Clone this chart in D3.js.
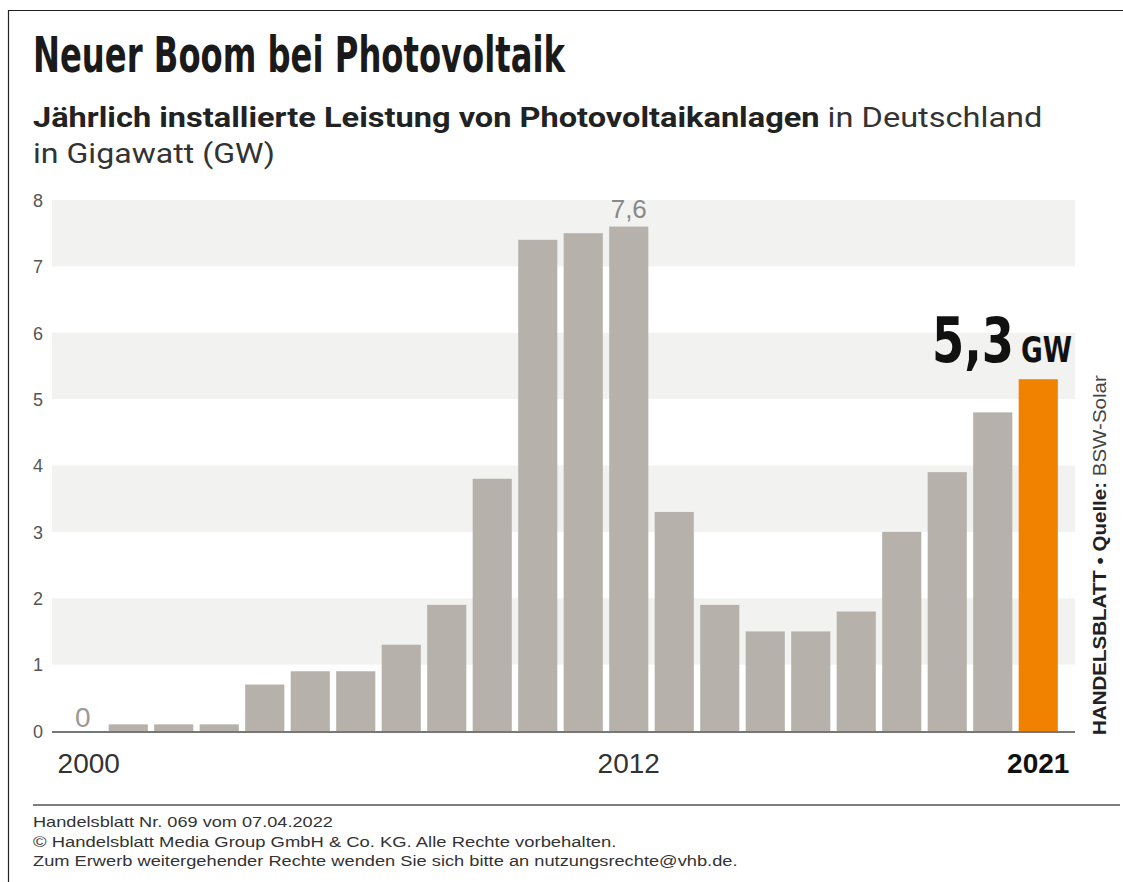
<!DOCTYPE html>
<html><head><meta charset="utf-8">
<script src="https://cdn.jsdelivr.net/npm/d3@7"></script>
<style>
html,body{margin:0;padding:0;background:#fff;}
svg{display:block;}
</style></head>
<body>
<script>
const years = [2000,2001,2002,2003,2004,2005,2006,2007,2008,2009,2010,2011,2012,2013,2014,2015,2016,2017,2018,2019,2020,2021];
const values = [0,0.1,0.1,0.1,0.7,0.9,0.9,1.3,1.9,3.8,7.4,7.5,7.6,3.3,1.9,1.5,1.5,1.8,3.0,3.9,4.8,5.3];
const yTicks = [0,1,2,3,4,5,6,7,8];
const xLabels = [2000, 2012, 2021];
const titleText = "Neuer Boom bei Photovoltaik";
const subBold = "Jährlich installierte Leistung von Photovoltaikanlagen";
const subRegular = " in Deutschland";
const subLine2 = "in Gigawatt (GW)";
const footer = ["Handelsblatt Nr. 069 vom 07.04.2022",
  "© Handelsblatt Media Group GmbH & Co. KG. Alle Rechte vorbehalten.",
  "Zum Erwerb weitergehender Rechte wenden Sie sich bitte an nutzungsrechte@vhb.de."];

const W = 1123, H = 882;
const svg = d3.select("body").append("svg").attr("width", W).attr("height", H);

// place text at (x,y) and scale horizontally to the given width
function fit(g, x, y, width, anchorRight) {
  const t = g.node();
  const w = t.getComputedTextLength ? t.getComputedTextLength() : t.getBBox().width;
  const s = width / w;
  g.attr("x", 0).attr("y", 0)
   .attr("transform", `translate(${x},${y}) scale(${s},1)`);
  return g;
}

// frame
svg.append("path").attr("d", `M8.5,${H} V10.5 H${W}`).attr("fill","none").attr("stroke","#222").attr("stroke-width",1.2);

// title
const condensed = "'DejaVu Sans Condensed','Liberation Sans Narrow',sans-serif";
fit(svg.append("text").text(titleText)
  .attr("font-family",condensed).attr("font-weight","bold").attr("font-size",50).attr("fill","#1a1a1a"),
  33, 72, 532);

// subtitle
const sub = svg.append("text").attr("font-family","Roboto, 'Noto Sans', sans-serif").attr("font-size",27).attr("fill","#222");
sub.append("tspan").attr("font-weight","bold").text(subBold);
sub.append("tspan").attr("font-weight","normal").attr("fill","#333").text(subRegular);
fit(sub, 33, 127, 1010);
fit(svg.append("text").text(subLine2)
  .attr("font-family","Roboto, 'Noto Sans', sans-serif").attr("font-size",27).attr("fill","#333"),
  33, 163, 242);

// scales
const y = d3.scaleLinear().domain([0,8]).range([731,200]);
const x = d3.scaleBand().domain(years).range([60,1061]).paddingInner(0.14).paddingOuter(0.07);
const plotL = 52, plotR = 1075;

// bands
const bandStarts = [1,3,5,7];
svg.append("g").selectAll("rect").data(bandStarts).join("rect")
  .attr("x",plotL).attr("width",plotR-plotL)
  .attr("y",d=>y(d+1)).attr("height",d=>y(d)-y(d+1))
  .attr("fill","#f2f2f0");

// y axis
const yAxis = svg.append("g").attr("transform","translate(45,0)")
  .call(d3.axisLeft(y).tickValues(yTicks).tickSize(0).tickPadding(0).tickFormat(d3.format("d")));
yAxis.select(".domain").remove();
yAxis.selectAll("text").attr("font-family","'Liberation Sans', Arial, sans-serif")
  .attr("font-size",18).attr("fill","#555").attr("text-anchor","middle").attr("x",-7).attr("dy","0.35em");

// bars
svg.append("g").selectAll("rect").data(years).join("rect")
  .attr("x",d=>x(d)).attr("width",x.bandwidth())
  .attr("y",(d,i)=>y(values[i])).attr("height",(d,i)=>y(0)-y(values[i]))
  .attr("fill",(d,i)=> d===2021 ? "#f08200" : "#b6b1ab");

// baseline
svg.append("line").attr("x1",plotL).attr("x2",plotR).attr("y1",y(0)+1).attr("y2",y(0)+1)
  .attr("stroke","#777").attr("stroke-width",2);

// x labels
const xAxis = svg.append("g").attr("transform",`translate(0,${y(0)})`)
  .call(d3.axisBottom(x).tickValues(xLabels).tickSize(0).tickPadding(0));
xAxis.select(".domain").remove();
xAxis.selectAll("text").attr("font-family","'Liberation Sans', Arial, sans-serif")
  .attr("font-size",28).attr("dy",0).attr("y",42)
  .attr("font-weight",d=>d===2021?"bold":"normal").attr("fill",d=>d===2021?"#111":"#333");
xAxis.selectAll("text").filter(d=>d===2000).attr("dx",6);

// value labels
const i0 = years.indexOf(2000), i12 = years.indexOf(2012), i21 = years.indexOf(2021);
svg.append("text").attr("x",x(2000)+x.bandwidth()/2).attr("y",y(values[i0])-4)
  .attr("text-anchor","middle").attr("font-family","'Liberation Sans', Arial, sans-serif")
  .attr("font-size",28).attr("fill","#999").text(d3.format(",.0f")(values[i0]));
svg.append("text").attr("x",x(2012)+x.bandwidth()/2).attr("y",y(values[i12])-9)
  .attr("text-anchor","middle").attr("font-family","'Liberation Sans', Arial, sans-serif")
  .attr("font-size",26).attr("fill","#888").text(String(values[i12]).replace(".",","));

fit(svg.append("text").attr("font-family",condensed)
  .attr("font-weight","bold").attr("font-size",62).attr("fill","#111")
  .text(String(values[i21]).replace(".",",")), 932, 362, 82);
fit(svg.append("text").attr("font-family",condensed)
  .attr("font-weight","bold").attr("font-size",36).attr("fill","#111").text("GW"), 1021, 362, 51);

// vertical source
const src = svg.append("text")
  .attr("font-family","'Liberation Sans', Arial, sans-serif").attr("font-size",18).attr("fill","#222");
src.append("tspan").attr("font-weight","bold").text("HANDELSBLATT • Quelle: ");
src.append("tspan").attr("font-weight","normal").attr("fill","#444").text("BSW-Solar");
{
  const w = src.node().getComputedTextLength();
  const s = 360 / w;
  src.attr("transform", `translate(1106,735) rotate(-90) scale(${s},1)`);
}

// footer
svg.append("line").attr("x1",33).attr("x2",W-3).attr("y1",805).attr("y2",805).attr("stroke","#555").attr("stroke-width",1.5);
const footW = [300, 584, 705];
footer.forEach((txt,i) => {
  fit(svg.append("text").text(txt)
    .attr("font-family","'Liberation Sans', Arial, sans-serif")
    .attr("font-size",15).attr("fill","#333"), 33, 827 + i*19.5, footW[i]);
});
</script>
</body></html>
